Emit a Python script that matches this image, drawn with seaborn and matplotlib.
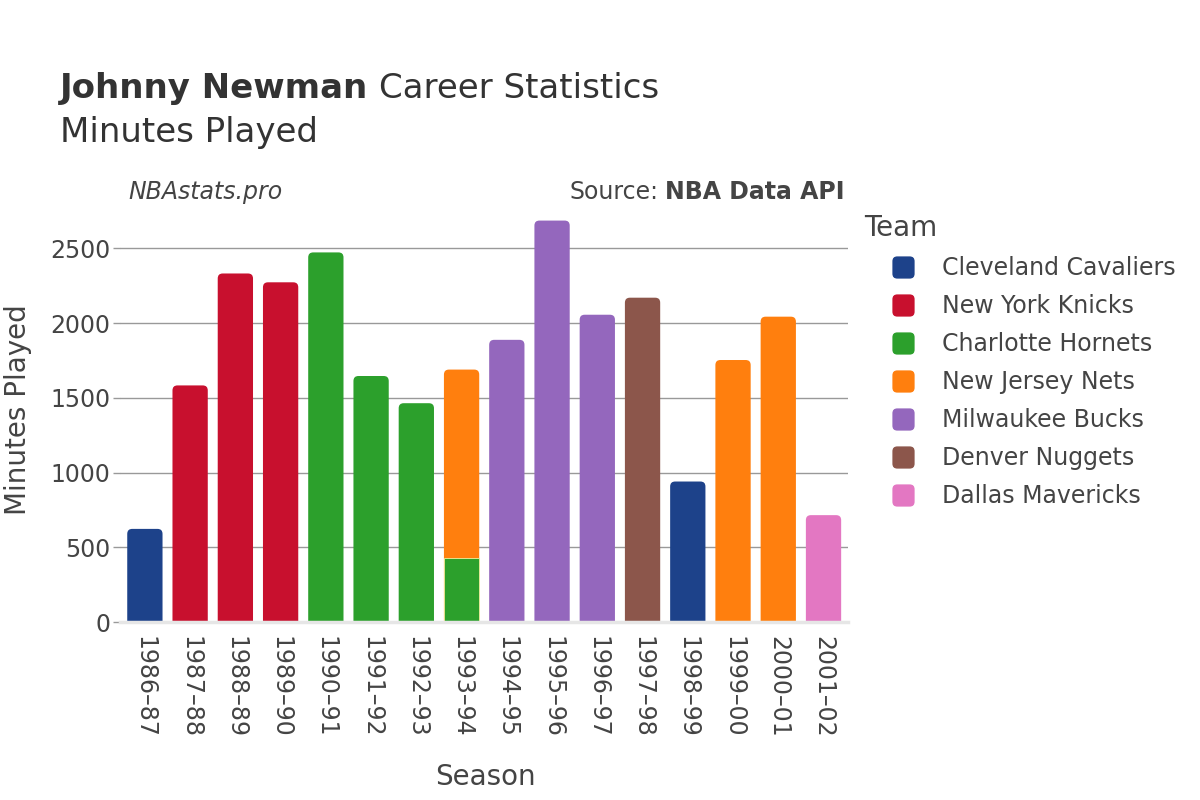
import pandas as pd
import numpy as np
import matplotlib.pyplot as plt
import seaborn as sns
from matplotlib.lines import Line2D
from matplotlib.patches import FancyBboxPatch

# datos
temporadas = ["1986–87", "1987–88", "1988–89", "1989–90", "1990–91", "1991–92",
              "1992–93", "1993–94", "1993–94", "1994–95", "1995–96", "1996–97",
              "1997–98", "1998–99", "1999–00", "2000–01", "2001–02"]
equipos = ["Cleveland Cavaliers", "New York Knicks", "New York Knicks", "New York Knicks",
           "Charlotte Hornets", "Charlotte Hornets", "Charlotte Hornets", "Charlotte Hornets",
           "New Jersey Nets", "Milwaukee Bucks", "Milwaukee Bucks", "Milwaukee Bucks",
           "Denver Nuggets", "Cleveland Cavaliers", "New Jersey Nets", "New Jersey Nets",
           "Dallas Mavericks"]
minutos = [623, 1583, 2332, 2273, 2473, 1646, 1464, 428, 1261, 1888, 2686, 2056,
           2170, 940, 1753, 2043, 715]

orden_equipos = ["Cleveland Cavaliers", "New York Knicks", "Charlotte Hornets",
                 "New Jersey Nets", "Milwaukee Bucks", "Denver Nuggets", "Dallas Mavericks"]
colores = ["#1d428a", "#c8102e", "#2ca02c", "#ff7f0e", "#9467bd", "#8c564b", "#e377c2"]
paleta = dict(zip(orden_equipos, colores))

df = pd.DataFrame({"temporada": temporadas, "equipo": equipos, "minutos": minutos})
df["acumulado"] = df.groupby("temporada")["minutos"].cumsum()
df["ultimo"] = ~df.duplicated("temporada", keep="last")
orden_temp = list(dict.fromkeys(temporadas))

sns.set_style("white")
plt.rcParams["font.family"] = ["DejaVu Sans"]
gris = "#444444"

fig = plt.figure(figsize=(12, 8), dpi=100)
ax = fig.add_axes([0.1, 0.2225, 0.607, 0.51])
ymax = 2730
ax.set_ylim(0, ymax)

# capa superior (total por temporada)
sns.barplot(data=df[df["ultimo"]], x="temporada", y="acumulado", hue="equipo",
            order=orden_temp, hue_order=orden_equipos, palette=paleta, saturation=1,
            dodge=False, width=0.78, ax=ax, legend=False, linewidth=0)

# esquinas redondeadas (las de abajo quedan fuera del eje)
px_x = 0.607 * 1200 / len(orden_temp)
px_y = 0.51 * 800 / ymax
radio = 5
for p in list(ax.patches):
    h = p.get_height()
    if not np.isfinite(h) or h <= 0:
        p.remove()
        continue
    x, w, c = p.get_x(), p.get_width(), p.get_facecolor()
    p.remove()
    ax.add_patch(FancyBboxPatch((x, -200), w, h + 200,
                                boxstyle=f"round,pad=0,rounding_size={radio / px_x}",
                                mutation_aspect=px_x / px_y, facecolor=c,
                                edgecolor="none", zorder=3))

# tramos de abajo (temporada con dos equipos)
sns.barplot(data=df[~df["ultimo"]], x="temporada", y="acumulado", hue="equipo",
            order=orden_temp, hue_order=orden_equipos, palette=paleta, saturation=1,
            dodge=False, width=0.78, ax=ax, legend=False, linewidth=0)
for p in ax.patches:
    if not isinstance(p, FancyBboxPatch):
        p.set_zorder(4)
        p.set_edgecolor("#f0f0a0")
        p.set_linewidth(0.6)

ax.set_ylim(0, ymax)
ax.set_xlim(-0.55, len(orden_temp) - 0.45)
ax.set_yticks([0, 500, 1000, 1500, 2000, 2500])
ax.grid(axis="y", color="#999999", linewidth=1, zorder=0)
ax.set_axisbelow(True)
for s in ["top", "right", "left"]:
    ax.spines[s].set_visible(False)
ax.spines["bottom"].set_color("#e6e6e6")
ax.spines["bottom"].set_linewidth(2.5)
ax.spines["bottom"].set_zorder(5)
ax.tick_params(axis="x", labelrotation=-90, labelsize=17, colors=gris, length=0, pad=10)
ax.tick_params(axis="y", labelsize=17, labelcolor=gris, color="#999999", length=5,
               width=1, pad=2, left=True)
ax.set_xlabel("Season", fontsize=20, color=gris)
ax.set_ylabel("Minutes Played", fontsize=20, color=gris)
ax.xaxis.set_label_coords((485 - 120) / 728.4, -0.345)
ax.yaxis.set_label_coords(-0.121, 0.52)

# títulos
t1 = fig.text(0.05, 0.889, "Johnny Newman", fontsize=24.5, fontweight="bold",
              color="#333333", va="center")
fig.canvas.draw()
bb = t1.get_window_extent(fig.canvas.get_renderer())
fig.text(bb.x1 / 1200 + 0.009, 0.889, "Career Statistics", fontsize=24.5, color="#333333",
         va="center")
fig.text(0.05, 0.834, "Minutes Played", fontsize=24.5, color="#333333", va="center")
fig.text(0.107, 0.76, "NBAstats.pro", fontsize=17, style="italic", color=gris, va="center")
t2 = fig.text(0.704, 0.76, "NBA Data API", fontsize=17, fontweight="bold", color=gris,
              va="center", ha="right")
fig.canvas.draw()
bb2 = t2.get_window_extent(fig.canvas.get_renderer())
fig.text(bb2.x0 / 1200 - 0.006, 0.76, "Source:", fontsize=17, color=gris, va="center",
         ha="right")

# leyenda con cuadrados redondeados
cuadro = FancyBboxPatch((-0.5, -0.5), 1, 1, boxstyle="round,pad=0,rounding_size=0.22")
marca = cuadro.get_path()
manijas = [Line2D([], [], marker=marca, linestyle="", markersize=16, color=c,
                  markeredgewidth=0) for c in colores]
leg = fig.legend(manijas, orden_equipos, title="Team", loc="upper left",
                 bbox_to_anchor=(0.7165, 0.738), frameon=False, fontsize=17,
                 title_fontsize=20, labelspacing=0.59, handlelength=3.3,
                 handletextpad=0.0, borderaxespad=0, borderpad=0.2)
leg._legend_box.align = "left"
for txt in leg.get_texts():
    txt.set_color(gris)
leg.get_title().set_color(gris)

fig.savefig("out.png", dpi=100)
